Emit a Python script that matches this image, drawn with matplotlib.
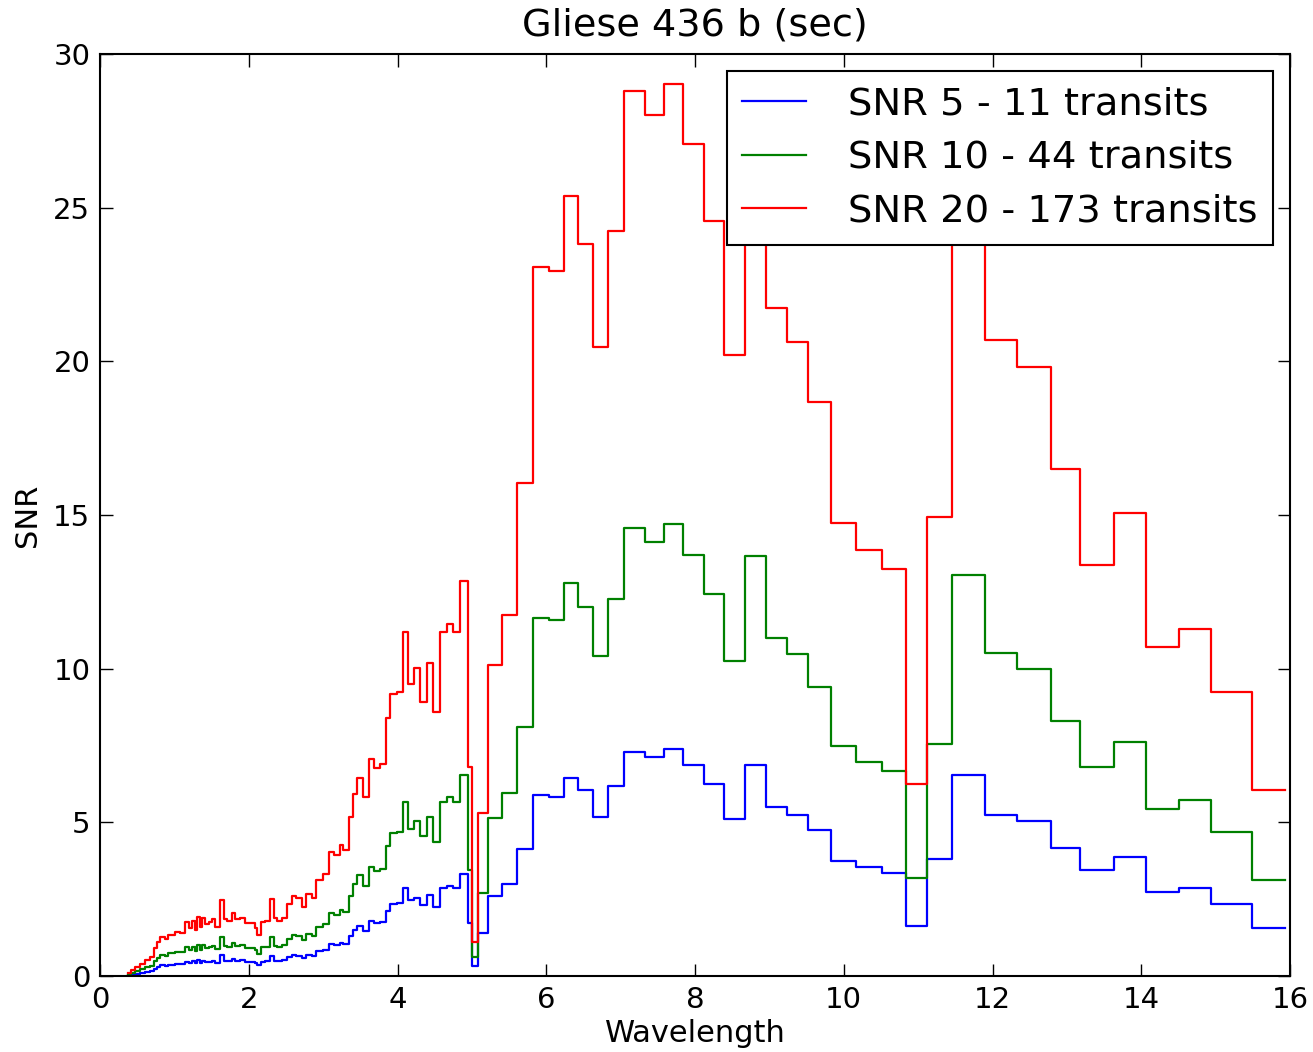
import numpy as np
import matplotlib
matplotlib.use("Agg")
import matplotlib.pyplot as plt

# bin edges (wavelength) and per-bin SNR
edges = [0.38, 0.42, 0.47, 0.54, 0.60, 0.67, 0.73, 0.76, 0.81, 0.87, 0.92, 1.01,
         1.08, 1.14, 1.19, 1.24, 1.28, 1.31, 1.34, 1.37, 1.41, 1.46, 1.50, 1.55,
         1.61, 1.66, 1.71, 1.77, 1.81, 1.88, 1.95, 2.02, 2.08, 2.11, 2.16, 2.22,
         2.28, 2.34, 2.38, 2.44, 2.51, 2.58, 2.64, 2.71, 2.77, 2.85, 2.91, 3.00,
         3.08, 3.14, 3.22, 3.27, 3.35, 3.40, 3.46, 3.54, 3.61, 3.69, 3.76, 3.84,
         3.90, 3.99, 4.07, 4.14, 4.22, 4.30, 4.40, 4.48, 4.57, 4.66, 4.75, 4.84,
         4.95, 5.00, 5.08, 5.21, 5.41, 5.61, 5.82, 6.04, 6.24, 6.42, 6.63, 6.83,
         7.04, 7.33, 7.58, 7.84, 8.12, 8.39, 8.67, 8.95, 9.23, 9.52, 9.83, 10.17,
         10.51, 10.83, 11.12, 11.46, 11.90, 12.33, 12.78, 13.18, 13.63, 14.06,
         14.51, 14.94, 15.49, 15.93]

snr20 = [0.10, 0.20, 0.30, 0.40, 0.52, 0.62, 0.90, 1.10, 1.28, 1.20, 1.33, 1.44,
         1.40, 1.77, 1.55, 1.78, 1.50, 1.93, 1.60, 1.90, 1.68, 1.75, 1.85, 1.61,
         2.47, 1.84, 1.80, 2.04, 1.86, 1.90, 1.72, 1.71, 1.55, 1.33, 1.77, 1.80,
         2.50, 1.88, 1.80, 1.90, 2.34, 2.60, 2.55, 2.26, 2.67, 2.55, 3.12, 3.31,
         4.05, 3.94, 4.26, 4.10, 5.16, 5.93, 6.45, 5.81, 7.05, 6.76, 6.89, 8.39,
         9.18, 9.23, 11.18, 9.49, 10.01, 8.93, 10.18, 8.60, 11.20, 11.44, 11.20, 12.86,
         6.80, 1.10, 5.30, 10.12, 11.75, 16.05, 23.06, 22.95, 25.38, 23.82, 20.45, 24.24,
         28.81, 28.00, 29.02, 27.06, 24.57, 20.21, 27.20, 21.75, 20.62, 18.69, 14.75, 13.86,
         13.23, 6.25, 14.93, 26.00, 20.70, 19.83, 16.50, 13.37, 15.06, 10.69, 11.29, 9.25,
         6.05]

snr10 = [0.05, 0.11, 0.16, 0.22, 0.28, 0.34, 0.48, 0.60, 0.70, 0.66, 0.74, 0.79,
         0.77, 0.94, 0.84, 0.95, 0.82, 1.02, 0.86, 1.00, 0.90, 0.93, 0.98, 0.87,
         1.26, 0.97, 0.95, 1.06, 0.98, 1.00, 0.92, 0.92, 0.84, 0.73, 0.94, 0.95,
         1.28, 0.98, 0.95, 1.00, 1.20, 1.33, 1.30, 1.16, 1.36, 1.30, 1.58, 1.68,
         2.05, 2.00, 2.15, 2.07, 2.60, 3.00, 3.30, 2.94, 3.56, 3.41, 3.48, 4.24,
         4.65, 4.70, 5.67, 4.80, 5.05, 4.56, 5.16, 4.37, 5.67, 5.81, 5.67, 6.54,
         3.45, 0.63, 2.69, 5.14, 5.95, 8.10, 11.65, 11.60, 12.80, 12.00, 10.40, 12.27,
         14.58, 14.12, 14.70, 13.70, 12.43, 10.25, 13.67, 11.00, 10.48, 9.40, 7.48, 6.98,
         6.68, 3.19, 7.55, 13.05, 10.50, 9.98, 8.31, 6.81, 7.60, 5.42, 5.73, 4.70,
         3.12]

snr5 = [0.03, 0.05, 0.08, 0.11, 0.14, 0.17, 0.24, 0.30, 0.35, 0.33, 0.37, 0.39,
        0.38, 0.47, 0.42, 0.48, 0.41, 0.51, 0.43, 0.50, 0.45, 0.47, 0.49, 0.44,
        0.67, 0.50, 0.48, 0.54, 0.50, 0.51, 0.46, 0.46, 0.42, 0.36, 0.47, 0.48,
        0.65, 0.50, 0.48, 0.51, 0.61, 0.68, 0.66, 0.59, 0.69, 0.66, 0.80, 0.85,
        1.03, 1.00, 1.09, 1.05, 1.31, 1.50, 1.64, 1.47, 1.79, 1.71, 1.75, 2.13,
        2.35, 2.37, 2.87, 2.47, 2.55, 2.31, 2.64, 2.26, 2.87, 2.94, 2.87, 3.31,
        1.73, 0.33, 1.39, 2.61, 2.99, 4.12, 5.89, 5.81, 6.43, 6.05, 5.16, 6.18,
        7.30, 7.14, 7.38, 6.87, 6.25, 5.11, 6.87, 5.49, 5.24, 4.75, 3.75, 3.56,
        3.36, 1.63, 3.80, 6.54, 5.24, 5.05, 4.18, 3.45, 3.86, 2.72, 2.87, 2.36,
        1.55]

labels = ["SNR 5 - 11 transits", "SNR 10 - 44 transits", "SNR 20 - 173 transits"]
colors = ["b", "g", "r"]

plt.rcParams['font.family'] = 'DejaVu Sans'
fig = plt.figure(figsize=(13.13, 10.52), dpi=100)
ax = fig.add_axes([0.0762, 0.0722, 0.9063, 0.8765])

for vals, lab, col in zip([snr5, snr10, snr20], labels, colors):
    ax.step(edges, vals + [vals[-1]], where='post', color=col, lw=1.6, label=lab)

ax.set_xlim(0, 16)
ax.set_ylim(0, 30)
ax.set_xticks(range(0, 17, 2))
ax.set_yticks(range(0, 31, 5))
ax.tick_params(direction='in', length=9, width=1, labelsize=21, pad=7,
               top=True, right=True)
for s in ax.spines.values():
    s.set_linewidth(1.5)

ax.set_title("Gliese 436 b (sec)", fontsize=27.5, pad=13)
ax.set_xlabel("Wavelength", fontsize=22, labelpad=4)
ax.set_ylabel("SNR", fontsize=22, labelpad=8)

leg = ax.legend(loc='upper right', fontsize=27.7, fancybox=False, framealpha=1,
                edgecolor='black', handlelength=1.65, handletextpad=1.1,
                borderpad=0.4, labelspacing=0.45, borderaxespad=0.45)
leg.get_frame().set_linewidth(1.5)

fig.savefig("out.png", dpi=100)
